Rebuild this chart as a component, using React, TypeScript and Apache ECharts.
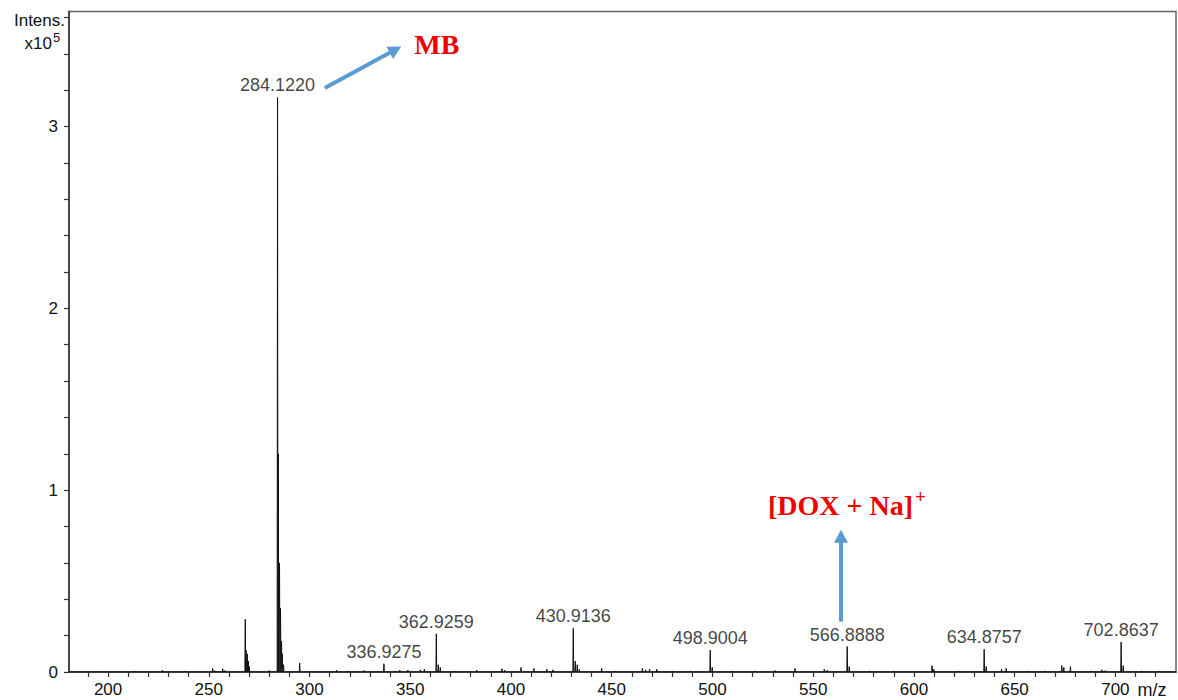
import React, { useEffect, useRef } from "react";
import * as echarts from "echarts";

// Axis extents (m/z and intensity in units of 1e5)
const xMin = 180.6;
const xMax = 730.1;
const yMin = 0;
const yMax = 3.633;

const xLabelValues = [200, 250, 300, 350, 400, 450, 500, 550, 600, 650, 700];
const xTickValues = [
  190, 200, 210, 220, 230, 240, 250, 260, 270, 280, 290, 300, 310, 320, 330, 340, 350,
  360, 370, 380, 390, 400, 410, 420, 430, 440, 450, 460, 470, 480, 490, 500, 510, 520,
  530, 540, 550, 560, 570, 580, 590, 600, 610, 620, 630, 640, 650, 660, 670, 680, 690,
  700, 710, 720,
];
const yLabelValues = [0, 1, 2, 3];
const yTickValues = [0, 0.2, 0.4, 0.6, 0.8, 1, 1.2, 1.4, 1.6, 1.8, 2, 2.2, 2.4, 2.6, 2.8, 3, 3.2, 3.4, 3.6];

// Centroid peaks: [m/z, intensity x1e5]
const peaks: [number, number][] = [
  [196.1, 0.004], [213.0, 0.006], [226.9, 0.01], [238.0, 0.006],
  [251.9, 0.02], [252.9, 0.008], [256.9, 0.018], [257.9, 0.008],
  [268.1, 0.29], [268.5, 0.12], [269.1, 0.1], [269.6, 0.06], [270.1, 0.03],
  [280.0, 0.008],
  [284.122, 3.16], [284.5, 1.2], [285.1, 0.6], [285.6, 0.35], [286.1, 0.17], [286.5, 0.1], [287.1, 0.04],
  [295.1, 0.05], [301.0, 0.005], [313.4, 0.01], [319.0, 0.006], [327.0, 0.008],
  [336.9275, 0.045], [344.8, 0.01], [348.8, 0.01], [355.0, 0.012], [357.0, 0.015],
  [362.9259, 0.21], [363.9, 0.04], [364.9, 0.025], [372.0, 0.006], [383.0, 0.01],
  [395.5, 0.018], [396.9, 0.01], [405.0, 0.025], [411.4, 0.02], [417.8, 0.015], [420.8, 0.012],
  [430.9136, 0.24], [431.9, 0.06], [432.9, 0.04], [433.9, 0.015], [445.0, 0.02], [452.0, 0.006],
  [465.2, 0.02], [466.8, 0.012], [468.8, 0.015], [472.4, 0.015], [480.0, 0.006], [489.0, 0.006],
  [498.9004, 0.12], [499.9, 0.025], [510.0, 0.006], [521.0, 0.006], [531.0, 0.008],
  [541.0, 0.02], [555.5, 0.015], [557.0, 0.01],
  [566.8888, 0.14], [567.9, 0.03], [578.0, 0.006], [590.0, 0.006], [609.0, 0.035], [609.9, 0.015], [622.0, 0.006],
  [634.8757, 0.125], [635.9, 0.03], [643.5, 0.015], [645.8, 0.02], [657.0, 0.006], [665.0, 0.006],
  [673.4, 0.035], [674.4, 0.025], [677.7, 0.03], [688.0, 0.006], [693.3, 0.012], [695.0, 0.008],
  [702.8637, 0.165], [703.9, 0.035], [713.0, 0.006], [722.0, 0.006],
];

// Peaks that carry an m/z label
const labeledMz = [284.122, 336.9275, 362.9259, 430.9136, 498.9004, 566.8888, 634.8757, 702.8637];

// Annotation anchors in data coordinates
const mbArrow = { from: [307.6, 3.212], to: [345.5, 3.44] };
const mbText = { at: [363.2, 3.454], text: "MB" };
const doxArrow = { from: [563.8, 0.277], to: [563.8, 0.782] };
const doxText = { at: [563.8, 0.918], text: "[DOX + Na]", sup: "+" };

const SANS = 'Arial, "Liberation Sans", sans-serif';
const SERIF = '"Times New Roman", "Liberation Serif", serif';
const ARROW = "#5b9bd5";
const RED = "#ee0000";
const INK = "#111";

function stickProfile(): number[][] {
  const out: number[][] = [[xMin, 0]];
  for (const [mz, h] of peaks) {
    out.push([mz - 0.2, 0], [mz, h], [mz + 0.2, 0]);
  }
  out.push([xMax, 0]);
  return out;
}

function arrowGraphics(p0: number[], p1: number[]) {
  const dx = p1[0] - p0[0];
  const dy = p1[1] - p0[1];
  const len = Math.sqrt(dx * dx + dy * dy);
  const ux = dx / len;
  const uy = dy / len;
  const headL = 13;
  const headW = 7;
  const bx = p1[0] - ux * headL;
  const by = p1[1] - uy * headL;
  return [
    {
      type: "line",
      shape: { x1: p0[0], y1: p0[1], x2: bx + ux * 2, y2: by + uy * 2 },
      style: { stroke: ARROW, lineWidth: 4 },
      silent: true,
    },
    {
      type: "polygon",
      shape: {
        points: [
          [p1[0], p1[1]],
          [bx - uy * headW, by + ux * headW],
          [bx + uy * headW, by - ux * headW],
        ],
      },
      style: { fill: ARROW },
      silent: true,
    },
  ];
}

export default function App() {
  const ref = useRef<HTMLDivElement>(null);

  useEffect(() => {
    if (!ref.current) return;
    const chart = echarts.init(ref.current, null, { renderer: "svg" });

    const labeled = peaks.filter(([mz]) => labeledMz.some((m) => Math.abs(m - mz) < 1e-6));

    chart.setOption({
      animation: false,
      backgroundColor: "#ffffff",
      grid: {
        left: 69,
        right: 2,
        top: 11.5,
        bottom: 28,
        show: true,
        borderColor: "#666",
        borderWidth: 1.5,
        backgroundColor: "transparent",
      },
      xAxis: {
        type: "value",
        min: xMin,
        max: xMax,
        axisLine: { show: true, lineStyle: { color: "#333", width: 1.5 } },
        axisTick: { show: true, length: 5, customValues: xTickValues, lineStyle: { color: "#333", width: 1.2 } },
        axisLabel: {
          customValues: xLabelValues,
          margin: 9,
          fontSize: 17,
          fontFamily: SANS,
          color: INK,
        },
        splitLine: { show: false },
      },
      yAxis: {
        type: "value",
        min: yMin,
        max: yMax,
        axisLine: { show: true, lineStyle: { color: "#333", width: 1.5 } },
        axisTick: { show: true, length: 5, customValues: yTickValues, lineStyle: { color: "#333", width: 1.2 } },
        axisLabel: {
          customValues: yLabelValues,
          margin: 11,
          fontSize: 17,
          fontFamily: SANS,
          color: INK,
        },
        splitLine: { show: false },
      },
      series: [
        {
          type: "line",
          data: stickProfile(),
          showSymbol: false,
          symbol: "none",
          silent: true,
          lineStyle: { color: "#111", width: 1 },
          z: 3,
        },
        {
          type: "scatter",
          data: labeled,
          symbolSize: 0,
          silent: true,
          label: {
            show: true,
            position: "top",
            distance: 3,
            fontSize: 18,
            fontFamily: SANS,
            color: INK,
            formatter: (p: any) => p.value[0].toFixed(4),
          },
          z: 4,
        },
      ],
    });

    const px = (v: number[]) => chart.convertToPixel({ gridIndex: 0 }, v) as number[];
    const mbA0 = px(mbArrow.from);
    const mbA1 = px(mbArrow.to);
    const dxA0 = px(doxArrow.from);
    const dxA1 = px(doxArrow.to);
    const mbT = px(mbText.at);
    const dxT = px(doxText.at);

    chart.setOption({
      graphic: [
        {
          type: "text",
          style: { text: "Intens.", x: 65, y: 20, align: "right", verticalAlign: "middle", font: `17px ${SANS}`, fill: INK },
          silent: true,
        },
        {
          type: "text",
          style: { text: "x10", x: 52, y: 43, align: "right", verticalAlign: "middle", font: `17px ${SANS}`, fill: INK },
          silent: true,
        },
        {
          type: "text",
          style: { text: "5", x: 53, y: 37, align: "left", verticalAlign: "middle", font: `13px ${SANS}`, fill: INK },
          silent: true,
        },
        {
          type: "text",
          style: { text: "m/z", x: 1152, y: 690, align: "center", verticalAlign: "middle", font: `18px ${SANS}`, fill: INK },
          silent: true,
        },
        ...arrowGraphics(mbA0, mbA1),
        ...arrowGraphics(dxA0, dxA1),
        {
          type: "text",
          style: { text: mbText.text, x: mbT[0], y: mbT[1], align: "center", verticalAlign: "middle", font: `bold 28px ${SERIF}`, fill: RED },
          silent: true,
        },
        {
          type: "text",
          style: { text: doxText.text, x: dxT[0] + 72, y: dxT[1], align: "right", verticalAlign: "middle", font: `bold 28px ${SERIF}`, fill: RED },
          silent: true,
        },
        {
          type: "text",
          style: { text: doxText.sup, x: dxT[0] + 74, y: dxT[1] - 9, align: "left", verticalAlign: "middle", font: `bold 19px ${SERIF}`, fill: RED },
          silent: true,
        },
      ],
    });

    return () => chart.dispose();
  }, []);

  return (
    <div
      ref={ref}
      style={{ position: "absolute", left: 0, top: 0, width: 1178, height: 700, background: "#fff" }}
    />
  );
}
